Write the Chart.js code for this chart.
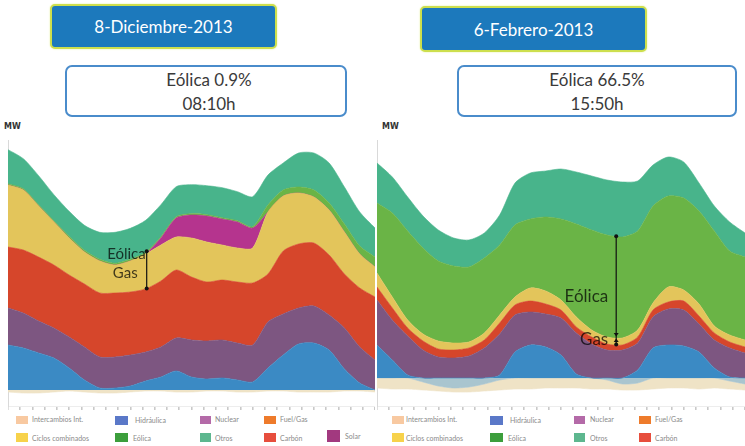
<!DOCTYPE html>
<html>
<head>
<meta charset="utf-8">
<script src="https://cdn.jsdelivr.net/npm/chart.js@4.4.0/dist/chart.umd.min.js"></script>
<style>
  html, body { margin:0; padding:0; background:#fff; }
  body { width:745px; height:446px; position:relative; overflow:hidden; font-family: Lato, "Open Sans", sans-serif; }
  .title { position:absolute; box-sizing:border-box; background:#1c79bc; border:2px solid #cddf4d; border-radius:5px;
           color:#fff; font:17px Lato, sans-serif; display:flex; align-items:center; justify-content:center;
           box-shadow:0 0 2px #e3ee9a; }
  .sub { position:absolute; box-sizing:border-box; background:#fff; border:2px solid #4a8ccb; border-radius:7px;
         color:#3a3a3a; font:17px Lato, sans-serif; line-height:24px; text-align:center; padding-top:1px; }
  .mw { position:absolute; font:bold 8px "DejaVu Sans", sans-serif; color:#333; }
  canvas { position:absolute; }
  .lg { position:absolute; }
  .lg .b { position:absolute; }
  .lg .t { position:absolute; font:7px Lato, sans-serif; color:#8a8a8a; white-space:nowrap; }
</style>
</head>
<body>
<div class="title" style="left:50px;top:4px;width:227px;height:45px;">8-Diciembre-2013</div>
<div class="title" style="left:420px;top:6px;width:227px;height:46px;">6-Febrero-2013</div>
<div class="sub" style="left:65px;top:65px;width:282px;height:52px;padding-left:6px;">Eólica 0.9%<br>08:10h</div>
<div class="sub" style="left:457px;top:65px;width:280px;height:52px;">Eólica 66.5%<br>15:50h</div>
<div class="mw" style="left:4px;top:122px;">MW</div>
<div class="mw" style="left:382px;top:122px;">MW</div>
<canvas id="c1" width="367" height="270" style="left:8px;top:140px;"></canvas>
<canvas id="c2" width="368" height="270" style="left:377px;top:140px;"></canvas>
<div id="leg"></div>
<script>
// ---- time axis (hours) ----
const HORAS = [0,1,2,3,4,5,6,7,8,9,10,11,12,13,14,15,16,17,18,19,20,21,22,23,24];

// ---- 8 Diciembre 2013 (MW) ----
const dicHidraulica   = [6750,6300,5550,4800,3300,1500,300,300,600,1350,1950,2850,1950,1650,1800,1500,1200,3300,5250,6900,7050,6000,3150,1050,0];
const dicNuclear      = [5550,5250,4800,4500,4650,4950,4650,4650,4650,4350,4500,4950,5550,5700,5700,5550,5550,6900,6150,5400,5550,5250,6150,5400,4500];
const dicCarbon       = [9150,9450,9600,9450,9300,9450,9600,9600,9450,9450,9900,10200,9450,8850,9000,9150,9300,7200,9450,9600,9450,9000,8100,8850,9450];
const dicCiclos       = [9300,9000,7650,6450,5550,4800,4800,4200,4650,5250,5400,4950,5850,6000,5250,5100,5250,9300,8250,7650,6900,6750,6300,5100,4500];
const dicSolar        = [0,0,0,0,0,0,0,0,0,0,1050,2850,3450,3900,3900,3900,3000,0,0,0,0,0,0,0,0];
const dicEolica       = [200,200,200,200,250,250,250,250,250,250,200,200,200,200,200,200,200,1050,900,900,1050,1050,1200,1200,1500];
const dicOtros        = [5100,4500,4350,3900,3750,3750,4050,4650,4650,4800,4800,4500,4350,4350,4500,4350,4500,4500,4050,5100,5550,6000,5550,5100,4350];
const dicIntercambios = [-300,-450,-450,-300,-150,-300,-450,-450,-300,-150,-150,-300,-300,-150,-150,-300,-300,-150,-150,-300,-300,-300,-150,-150,-300];

// ---- 6 Febrero 2013 (MW) ----
const febHidraulica   = [4950,2700,450,0,0,0,0,0,450,3900,4950,4650,3450,600,0,0,0,1200,4500,4950,4800,3900,1500,150,0];
const febNuclear      = [6750,6000,5850,4200,3150,3000,3300,4500,6150,5550,4950,4950,5550,6150,5100,4200,4200,4050,4650,5400,5400,4200,4200,4350,3750];
const febCarbon       = [1950,1800,1200,1350,1200,1200,1200,1200,1650,1500,1650,1500,1200,900,1050,900,750,900,1050,1050,1350,1200,1050,900,900];
const febCiclos       = [2100,1650,1200,1050,1200,1050,900,1050,1200,1200,1950,1950,1500,1500,1050,1050,1050,1050,1050,2250,1650,1800,1050,1050,1050];
const febEolica       = [10500,12600,13350,12900,12000,11550,11250,11250,10500,10800,10350,11100,12150,13950,15000,15300,15150,14850,14550,13650,13800,13950,14250,12600,12450];
const febOtros        = [6000,5400,5100,4800,4650,4200,4050,3750,4500,6300,6900,6900,7500,7800,8100,8250,8250,7500,6150,5850,5400,4200,3750,4350,3600];
const febBombeo       = [0,0,0,-600,-1200,-1500,-1350,-900,-300,0,0,0,0,0,0,-300,-900,-750,0,0,0,0,0,-450,-900];
const febIntercambios = [-1500,-1650,-1650,-1200,-750,-600,-750,-1050,-1500,-1650,-1650,-1500,-1500,-1500,-1650,-1350,-900,-1050,-1650,-1500,-1500,-1650,-1500,-1200,-900];

// ---- annotation values ----
const dicHoraMarca = 9.07;   // 08:10h marker position
const febHoraMarca = 15.6;   // 15:50h marker position

// ---- legend ----
const LEG_NOMBRES = ['Intercambios Int.','Hidráulica','Nuclear','Fuel/Gas','Ciclos combinados','Eólica','Otros','Carbón','Solar'];
const LEG_COLORES = ['#f8c9a1','#5a78c8','#b46aa8','#ee7b2b','#f7d24b','#3c9e3c','#5db78f','#e74e3d','#a2397f'];

// ---- chart colours ----
const COL = {
  Hidraulica:'#3b8ac4', Nuclear:'#7d5681', Carbon:'#d6462b', Ciclos:'#e3c55b',
  Solar:'#b5348e', Eolica:'#6ab446', Otros:'#48b48b', Bombeo:'#a9c5cf', Intercambios:'#efe3c6'
};

function ds(label, data, color, fill, stack) {
  return { label, data, backgroundColor: color, borderColor: color, borderWidth: 0.6,
           fill, stack, pointRadius: 0, tension: 0.25 };
}

function marcador(cfg) {
  return {
    id: 'marcador',
    afterDatasetsDraw(chart) {
      const ctx = chart.ctx;
      const xp = chart.scales.x.getPixelForValue(cfg.hora);
      const yAt = (label) => {
        const i = chart.data.datasets.findIndex(d => d.label === label);
        const pts = chart.getDatasetMeta(i).data;
        for (let j = 0; j < pts.length - 1; j++) {
          if (xp >= pts[j].x && xp <= pts[j + 1].x) {
            const t = (xp - pts[j].x) / (pts[j + 1].x - pts[j].x);
            return pts[j].y + t * (pts[j + 1].y - pts[j].y);
          }
        }
        return pts[0].y;
      };
      const top = yAt(cfg.top), mid = yAt(cfg.mid), bot = yAt(cfg.bottom);
      ctx.save();
      ctx.strokeStyle = '#111'; ctx.fillStyle = '#111'; ctx.lineWidth = 1.2;
      ctx.beginPath(); ctx.moveTo(xp, top); ctx.lineTo(xp, bot); ctx.stroke();
      const dot = (y) => { ctx.beginPath(); ctx.arc(xp, y, 2, 0, Math.PI * 2); ctx.fill(); };
      const tri = (y, dir) => { ctx.beginPath(); ctx.moveTo(xp, y); ctx.lineTo(xp - 2.5, y - dir * 3.5); ctx.lineTo(xp + 2.5, y - dir * 3.5); ctx.closePath(); ctx.fill(); };
      dot(top); dot(bot);
      if (cfg.showMid) { tri(mid - 1, 1); tri(mid + 1, -1); }
      ctx.fillStyle = 'rgba(0,0,0,0.72)';
      ctx.textAlign = 'right'; ctx.textBaseline = 'middle';
      ctx.font = cfg.font;
      ctx.fillText('Eólica', xp + cfg.eolDx, cfg.eolY(top, mid, bot));
      ctx.fillText('Gas', xp + cfg.gasDx, cfg.gasY(top, mid, bot));
      ctx.restore();
    }
  };
}

function makeChart(id, datasets, ymin, ymax, mark) {
  return new Chart(document.getElementById(id), {
    type: 'line',
    data: { labels: HORAS, datasets },
    options: {
      responsive: false, animation: false,
      layout: { padding: 0 },
      plugins: { legend: { display: false }, tooltip: { enabled: false } },
      scales: {
        x: { type: 'linear', min: 0, max: 24,
             ticks: { display: false, stepSize: 0.8 },
             grid: { drawOnChartArea: false, drawTicks: true, tickLength: 4, color: '#c9c9c9', lineWidth: 1.6 },
             border: { color: '#ededed' } },
        y: { stacked: true, min: ymin, max: ymax,
             ticks: { display: false },
             grid: { display: false, drawTicks: false },
             border: { color: '#d9d9d9' } }
      }
    },
    plugins: [marcador(mark)]
  });
}

makeChart('c1', [
  ds('Hidráulica', dicHidraulica, COL.Hidraulica, 'origin', 'pos'),
  ds('Nuclear', dicNuclear, COL.Nuclear, '-1', 'pos'),
  ds('Carbón', dicCarbon, COL.Carbon, '-1', 'pos'),
  ds('Ciclos combinados', dicCiclos, COL.Ciclos, '-1', 'pos'),
  ds('Solar', dicSolar, COL.Solar, '-1', 'pos'),
  ds('Eólica', dicEolica, COL.Eolica, '-1', 'pos'),
  ds('Otros', dicOtros, COL.Otros, '-1', 'pos'),
  ds('Intercambios Int.', dicIntercambios, COL.Intercambios, 'origin', 'neg')
], -2400, 37500, {
  hora: dicHoraMarca, top: 'Eólica', mid: 'Ciclos combinados', bottom: 'Carbón', showMid: false,
  font: '15px Lato, sans-serif',
  eolDx: -1, eolY: (t) => t + 3,
  gasDx: -9, gasY: (t, m, b) => (t + b) / 2 + 3
});

makeChart('c2', [
  ds('Hidráulica', febHidraulica, COL.Hidraulica, 'origin', 'pos'),
  ds('Nuclear', febNuclear, COL.Nuclear, '-1', 'pos'),
  ds('Carbón', febCarbon, COL.Carbon, '-1', 'pos'),
  ds('Ciclos combinados', febCiclos, COL.Ciclos, '-1', 'pos'),
  ds('Eólica', febEolica, COL.Eolica, '-1', 'pos'),
  ds('Otros', febOtros, COL.Otros, '-1', 'pos'),
  ds('Bombeo', febBombeo, COL.Bombeo, 'origin', 'neg'),
  ds('Intercambios Int.', febIntercambios, COL.Intercambios, '-1', 'neg')
], -4200, 35700, {
  hora: febHoraMarca, top: 'Eólica', mid: 'Ciclos combinados', bottom: 'Carbón', showMid: true,
  font: '17px Lato, sans-serif',
  eolDx: -8, eolY: (t, m) => (t + m) / 2 + 10,
  gasDx: -8, gasY: (t, m, b) => (m + b) / 2 - 2
});

// ---- HTML legends ----
const legCont = document.getElementById('leg');
function legend(items) {
  items.forEach(([idx, bx, by, bw, bh, tx, ty]) => {
    const b = document.createElement('div');
    b.className = 'lg';
    b.innerHTML = '<div class="b" style="left:' + bx + 'px;top:' + by + 'px;width:' + bw + 'px;height:' + bh +
      'px;background:' + LEG_COLORES[idx] + '"></div><div class="t" style="left:' + tx + 'px;top:' + ty + 'px">' +
      LEG_NOMBRES[idx] + '</div>';
    legCont.appendChild(b);
  });
}
legend([
  [0, 16, 416, 12, 8, 32, 415], [1, 115, 416, 13, 9, 135, 416], [2, 200, 416, 11, 8, 215, 415], [3, 264, 416, 12, 8, 280, 415],
  [4, 16, 433, 12, 9, 32, 434], [5, 115, 433, 13, 9, 133, 434], [6, 200, 433, 11, 9, 215, 434], [7, 264, 433, 12, 9, 280, 434],
  [8, 327, 430, 13, 12, 345, 432]
]);
legend([
  [0, 392, 416, 12, 8, 406, 415], [1, 490, 416, 13, 9, 510, 416], [2, 574, 416, 11, 8, 590, 415], [3, 639, 416, 12, 8, 655, 415],
  [4, 392, 433, 12, 9, 406, 434], [5, 490, 433, 13, 9, 508, 434], [6, 574, 433, 11, 9, 590, 434], [7, 639, 433, 12, 9, 655, 434]
]);
</script>
</body>
</html>
